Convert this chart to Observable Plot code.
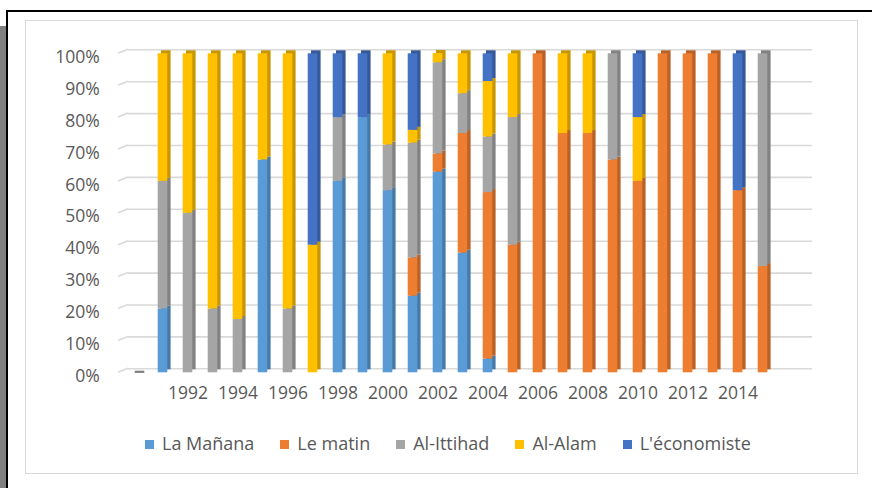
<!DOCTYPE html>
<html><head><meta charset="utf-8">
<script src="https://cdn.jsdelivr.net/npm/d3@7"></script>
<script src="https://cdn.jsdelivr.net/npm/@observablehq/plot@0.6"></script>
<style>
html,body{margin:0;padding:0;background:#fff;}
body{width:872px;height:488px;overflow:hidden;position:relative;font-family:"Open Sans",sans-serif;}
#band{position:absolute;left:0;top:26px;width:6px;height:462px;background:#808080;}
#outer{position:absolute;left:6px;top:9.5px;width:880px;height:490px;border-top:2px solid #000;border-left:2px solid #000;}
#inner{position:absolute;left:25px;top:20px;width:832.5px;height:454px;border:1.5px solid #d9d9d9;box-sizing:border-box;}
#chart{position:absolute;left:0;top:0;}
#legend{position:absolute;left:145px;top:432px;display:flex;gap:26px;font-size:18px;color:#595959;line-height:22px;white-space:nowrap;}
#legend .it{display:flex;align-items:center;}
#legend .sw{width:9px;height:9px;margin-right:8px;margin-top:2px;}
</style></head>
<body>
<div id="band"></div>
<div id="outer"></div>
<div id="inner"></div>
<div id="chart"></div>
<div id="legend"></div>
<script>
const years = [1990,1991,1992,1993,1994,1995,1996,1997,1998,1999,2000,2001,2002,2003,2004,2005,2006,2007,2008,2009,2010,2011,2012,2013,2014,2015];
const seriesNames = ["La Mañana","Le matin","Al-Ittihad","Al-Alam","L'économiste"];
const seriesColors = ["#5B9BD5","#ED7D31","#A5A5A5","#FFC000","#4472C4"];
const laManana   = [0,20,0,0,0,66.7,0,0,60,80,57.1,24,62.9,37.5,4.3,0,0,0,0,0,0,0,0,0,0,0];
const leMatin    = [0,0,0,0,0,0,0,0,0,0,0,12,5.7,37.5,52.2,40,100,75,75,66.7,60,100,100,100,57.1,33.3];
const alIttihad  = [0,40,50,20,16.7,0,20,0,20,0,14.3,36,28.6,12.5,17.4,40,0,0,0,33.3,0,0,0,0,0,66.7];
const alAlam     = [0,40,50,80,83.3,33.3,80,40,0,0,28.6,4,2.9,12.5,17.4,20,0,25,25,0,20,0,0,0,0,0];
const economiste = [0,0,0,0,0,0,0,60,20,20,0,24,0,0,8.7,0,0,0,0,0,20,0,0,0,42.9,0];
const yTicks = [0,10,20,30,40,50,60,70,80,90,100];
const xTickYears = [1992,1994,1996,1998,2000,2002,2004,2006,2008,2010,2012,2014];

const seriesValues = [laManana, leMatin, alIttihad, alAlam, economiste];
const table = [];
years.forEach((yr, i) => {
  seriesNames.forEach((s, k) => table.push({year: yr, series: s, value: seriesValues[k][i]}));
});
const totals = years.map((yr, i) => ({year: yr, total: d3.sum(seriesValues, a => a[i])}));
const zeroYears = totals.filter(d => d.total === 0);
const darker = seriesColors.map(c => d3.color(c).darker(0.7).formatHex());

const grid = "#d9d9d9";
const slant = (index, scales, values, dimensions) => {
  const g = d3.create("svg:g");
  const x0 = dimensions.marginLeft;
  for (const t of yTicks) {
    const y = scales.y(t);
    g.append("line").attr("x1", x0 - 10).attr("y1", y).attr("x2", x0).attr("y2", y - 4)
      .attr("stroke", grid).attr("stroke-width", 1.6);
  }
  return g.node();
};

const inset = 7.7;
const chart = Plot.plot({
  width: 872,
  height: 420,
  marginLeft: 128,
  marginRight: 60,
  marginTop: 49,
  marginBottom: 47.7,
  style: {fontFamily: "'Open Sans', sans-serif", fontSize: "17.5px", color: "#595959", background: "transparent"},
  x: {type: "band", domain: years, range: [120.2, 780], padding: 0, axis: null},
  y: {domain: [0, 100], range: [372.3, 53.3], axis: null},
  color: {domain: seriesNames, range: seriesColors},
  marks: [
    Plot.ruleY(yTicks, {y: d => d, stroke: grid, strokeWidth: 1.6, dy: -4}),
    slant,
    Plot.barY(table, {x: "year", y: "value", fill: d => darker[seriesNames.indexOf(d.series)], insetLeft: inset, insetRight: inset, dx: 3.3, dy: -3}),
    Plot.barY(table, {x: "year", y: "value", fill: "series", insetLeft: inset, insetRight: inset}),
    Plot.tickY(zeroYears, {x: "year", y: "total", stroke: "#7f7f7f", strokeWidth: 2.2, insetLeft: inset, insetRight: inset, dx: 2, dy: -1}),
    Plot.text(yTicks, {y: d => d, text: d => d + "%", frameAnchor: "left", textAnchor: "end", dx: -28.7, dy: 3.5, fill: "#595959"}),
    Plot.text(xTickYears, {x: d => d, text: d => String(d), frameAnchor: "bottom", dy: 26, fill: "#595959"})
  ]
});
document.getElementById("chart").appendChild(chart);

const legend = document.getElementById("legend");
seriesNames.forEach((s, k) => {
  const it = document.createElement("div"); it.className = "it";
  const sw = document.createElement("span"); sw.className = "sw"; sw.style.background = seriesColors[k];
  const tx = document.createElement("span"); tx.textContent = s;
  it.appendChild(sw); it.appendChild(tx); legend.appendChild(it);
});
</script>
</body></html>
